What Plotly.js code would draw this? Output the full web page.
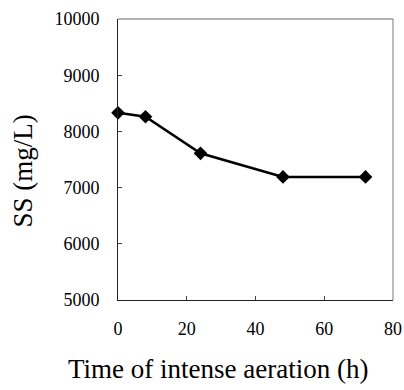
<!DOCTYPE html>
<html>
<head>
<meta charset="utf-8">
<script src="https://cdn.plot.ly/plotly-3.0.1.min.js"></script>
<style>html,body{margin:0;padding:0;background:#fff;}#chart{width:404px;height:390px;}</style>
</head>
<body>
<div id="chart"></div>
<script>
const hours = [0, 8, 24, 48, 72];
const ssValues = [8330, 8260, 7610, 7190, 7190];
const xTicks = [0, 20, 40, 60, 80];
const yTicks = [5000, 6000, 7000, 8000, 9000, 10000];
const xTitle = 'Time of intense aeration (h)';
const yTitle = 'SS (mg/L)';

const serif = 'Liberation Serif, Times New Roman, serif';

const trace = {
  x: hours,
  y: ssValues,
  type: 'scatter',
  mode: 'lines+markers',
  line: {color: '#000', width: 2.5},
  marker: {symbol: 'diamond', size: 10.5, color: '#000'},
  cliponaxis: false
};

const layout = {
  width: 404, height: 390,
  margin: {l: 118, r: 11, t: 19, b: 90},
  paper_bgcolor: '#fff', plot_bgcolor: '#fff',
  showlegend: false,
  xaxis: {
    range: [0, 80], tickvals: xTicks, ticktext: xTicks.map(String),
    ticks: 'inside', ticklen: 4, tickcolor: '#444',
    showline: true, linecolor: '#222', linewidth: 1,
    showgrid: false, zeroline: false,
    tickfont: {family: serif, size: 18, color: '#000'},
    ticklabelstandoff: 12
  },
  yaxis: {
    range: [5000, 10000], tickvals: yTicks, ticktext: yTicks.map(String),
    ticks: 'inside', ticklen: 4, tickcolor: '#444',
    showline: true, linecolor: '#222', linewidth: 1,
    showgrid: false, zeroline: false,
    tickfont: {family: serif, size: 18, color: '#000'},
    ticklabelstandoff: 14
  },
  shapes: [
    {type: 'line', xref: 'paper', yref: 'paper', x0: 0, x1: 1, y0: 1, y1: 1, line: {color: '#666', width: 1}},
    {type: 'line', xref: 'paper', yref: 'paper', x0: 1, x1: 1, y0: 0, y1: 1, line: {color: '#777', width: 1}}
  ],
  annotations: [
    {text: xTitle, xref: 'paper', yref: 'paper', x: 0.364, y: -0.246, xanchor: 'center', yanchor: 'middle',
     showarrow: false, font: {family: serif, size: 27, color: '#000'}},
    {text: yTitle, xref: 'paper', yref: 'paper', x: -0.347, y: 0.459, xanchor: 'center', yanchor: 'middle',
     textangle: -90, showarrow: false, font: {family: serif, size: 27, color: '#000'}}
  ]
};

Plotly.newPlot('chart', [trace], layout, {displayModeBar: false, staticPlot: true});
</script>
</body>
</html>
